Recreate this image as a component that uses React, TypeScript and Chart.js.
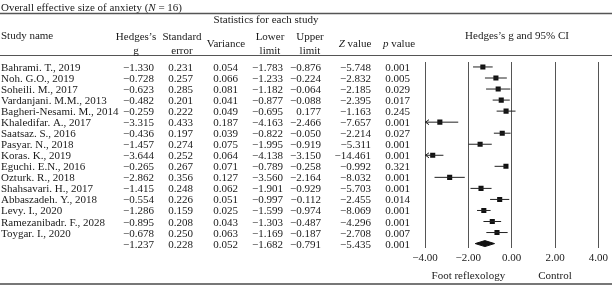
import React, { useEffect, useRef } from "react";
import { Chart, registerables } from "chart.js";

Chart.register(...registerables);

// ---------- data ----------
const titleText = "Overall effective size of anxiety (";
const sampleSizeLabel = "N";
const sampleSize = 16;

const studies = [
  "Bahrami. T., 2019",
  "Noh. G.O., 2019",
  "Soheili. M., 2017",
  "Vardanjani. M.M., 2013",
  "Bagheri-Nesami. M., 2014",
  "Khaledifar. A., 2017",
  "Saatsaz. S., 2016",
  "Pasyar. N., 2018",
  "Koras. K., 2019",
  "Eguchi. E.N., 2016",
  "Ozturk. R., 2018",
  "Shahsavari. H., 2017",
  "Abbaszadeh. Y., 2018",
  "Levy. I., 2020",
  "Ramezanibadr. F., 2028",
  "Toygar. I., 2020",
];
const hedgesG = [-1.33, -0.728, -0.623, -0.482, -0.259, -3.315, -0.436, -1.457, -3.644, -0.265, -2.862, -1.415, -0.554, -1.286, -0.895, -0.678];
const standardError = [0.231, 0.257, 0.285, 0.201, 0.222, 0.433, 0.197, 0.274, 0.252, 0.267, 0.356, 0.248, 0.226, 0.159, 0.208, 0.25];
const variance = [0.054, 0.066, 0.081, 0.041, 0.049, 0.187, 0.039, 0.075, 0.064, 0.071, 0.127, 0.062, 0.051, 0.025, 0.043, 0.063];
const lowerLimit = [-1.783, -1.233, -1.182, -0.877, -0.695, -4.163, -0.822, -1.995, -4.138, -0.789, -3.56, -1.901, -0.997, -1.599, -1.303, -1.169];
const upperLimit = [-0.876, -0.224, -0.064, -0.088, 0.177, -2.466, -0.05, -0.919, -3.15, -0.258, -2.164, -0.929, -0.112, -0.974, -0.487, -0.187];
const zValue = [-5.748, -2.832, -2.185, -2.395, -1.163, -7.657, -2.214, -5.311, -14.461, -0.992, -8.032, -5.703, -2.455, -8.069, -4.296, -2.708];
const pValue = [0.001, 0.005, 0.029, 0.017, 0.245, 0.001, 0.027, 0.001, 0.001, 0.321, 0.001, 0.001, 0.014, 0.001, 0.001, 0.007];

const overallG = -1.237;
const overallSE = 0.228;
const overallVariance = 0.052;
const overallLower = -1.682;
const overallUpper = -0.791;
const overallZ = -5.435;
const overallP = 0.001;

const xTickMin = -4;
const xTickMax = 4;
const xTickStep = 2;
const sideLabels = ["Foot reflexology", "Control"];
const sideLabelValues = [-2, 2];

const groupHeader = "Statistics for each study";
const forestHeader = "Hedges\u2019s g and 95% CI";
const studyHeader = "Study name";

// ---------- layout / style ----------
const FONT = '"Liberation Serif", "Times New Roman", "DejaVu Serif", serif';
const FS = 11;
const TEXT = "#1a1a1a";
const colRight = [154, 193, 238, 283, 321, 371, 410];
const colCenter = [136, 182, 226, 270, 310, 355, 399];

type Seg = [string, boolean];
const colHeaders: Seg[][][] = [
  [[["Hedges\u2019s", false]], [["g", false]]],
  [[["Standard", false]], [["error", false]]],
  [[["Variance", false]]],
  [[["Lower", false]], [["limit", false]]],
  [[["Upper", false]], [["limit", false]]],
  [[["Z", true], [" value", false]]],
  [[["p", true], [" value", false]]],
];

const fmt = (v: number, d = 3) => (v < 0 ? "\u2212" : "") + Math.abs(v).toFixed(d);

function font(italic: boolean) {
  return `${italic ? "italic " : ""}${FS}px ${FONT}`;
}

function drawSegs(ctx: CanvasRenderingContext2D, segs: Seg[], x: number, baseline: number, align: "left" | "center" | "right") {
  let total = 0;
  for (const [t, it] of segs) {
    ctx.font = font(it);
    total += ctx.measureText(t).width;
  }
  let cx = align === "left" ? x : align === "center" ? x - total / 2 : x - total;
  ctx.textAlign = "left";
  for (const [t, it] of segs) {
    ctx.font = font(it);
    ctx.fillText(t, cx, baseline);
    cx += ctx.measureText(t).width;
  }
}

const tablePlugin = {
  id: "tablePlugin",
  afterDatasetsDraw(chart: any) {
    const ctx: CanvasRenderingContext2D = chart.ctx;
    const ys = chart.scales.y;
    const xs = chart.scales.x;
    const W = chart.width;
    ctx.save();

    // arrowheads for intervals running past the axis minimum
    ctx.strokeStyle = "#222";
    ctx.lineWidth = 1;
    lowerLimit.forEach((lo, i) => {
      if (lo < xTickMin) {
        const px = xs.getPixelForValue(xTickMin);
        const py = ys.getPixelForValue(i);
        ctx.beginPath();
        ctx.moveTo(px + 4, py - 2.5);
        ctx.lineTo(px + 0.5, py);
        ctx.lineTo(px + 4, py + 2.5);
        ctx.stroke();
      }
    });

    ctx.fillStyle = TEXT;
    ctx.textBaseline = "alphabetic";

    // title
    drawSegs(ctx, [[titleText, false], [sampleSizeLabel, true], [` = ${sampleSize})`, false]], 1, 11, "left");

    // rules
    ctx.strokeStyle = "#555";
    ctx.lineWidth = 1.3;
    ctx.beginPath();
    ctx.moveTo(0, 13.5);
    ctx.lineTo(W, 13.5);
    ctx.stroke();
    ctx.lineWidth = 1;
    ctx.beginPath();
    ctx.moveTo(0, 55.5);
    ctx.lineTo(W, 55.5);
    ctx.stroke();
    ctx.strokeStyle = "#777";
    ctx.lineWidth = 2;
    ctx.beginPath();
    ctx.moveTo(0, 284);
    ctx.lineTo(W, 284);
    ctx.stroke();

    // headers
    ctx.fillStyle = TEXT;
    drawSegs(ctx, [[groupHeader, false]], 266, 22.5, "center");
    drawSegs(ctx, [[studyHeader, false]], 1, 39, "left");
    drawSegs(ctx, [[forestHeader, false]], 517, 39, "center");
    colHeaders.forEach((lines, c) => {
      if (lines.length === 2) {
        drawSegs(ctx, lines[0], colCenter[c], 40, "center");
        drawSegs(ctx, lines[1], colCenter[c], 53.5, "center");
      } else {
        drawSegs(ctx, lines[0], colCenter[c], 47, "center");
      }
    });

    // rows
    const rowVals = (i: number) => [hedgesG[i], standardError[i], variance[i], lowerLimit[i], upperLimit[i], zValue[i], pValue[i]];
    studies.forEach((name, i) => {
      const b = ys.getPixelForValue(i) + 4;
      drawSegs(ctx, [[name, false]], 1, b, "left");
      rowVals(i).forEach((v, c) => drawSegs(ctx, [[fmt(v), false]], colRight[c], b, "right"));
    });
    const ob = ys.getPixelForValue(studies.length) + 4;
    [overallG, overallSE, overallVariance, overallLower, overallUpper, overallZ, overallP].forEach((v, c) =>
      drawSegs(ctx, [[fmt(v), false]], colRight[c], ob, "right")
    );

    // side labels under the axis
    sideLabels.forEach((s, k) => {
      drawSegs(ctx, [[s, false]], xs.getPixelForValue(sideLabelValues[k]), 279, "center");
    });

    ctx.restore();
  },
};

export default function App() {
  const ref = useRef<HTMLCanvasElement | null>(null);

  useEffect(() => {
    if (!ref.current) return;
    const n = studies.length;

    const ciData: { x: number; y: number }[] = [];
    studies.forEach((_, i) => {
      ciData.push({ x: lowerLimit[i], y: i }, { x: upperLimit[i], y: i }, { x: NaN, y: NaN });
    });
    const pointData = studies.map((_, i) => ({ x: hedgesG[i], y: i }));
    const dh = 0.27;
    const diamond = [
      { x: overallLower, y: n },
      { x: overallG, y: n - dh },
      { x: overallUpper, y: n },
      { x: overallG, y: n + dh },
      { x: overallLower, y: n },
    ];

    const chart = new Chart(ref.current, {
      type: "line",
      data: {
        datasets: [
          {
            data: ciData,
            borderColor: "#222",
            borderWidth: 1,
            pointRadius: 0,
            spanGaps: false,
            fill: false,
          },
          {
            data: pointData,
            showLine: false,
            pointStyle: "rect",
            pointRadius: 3.6,
            pointBorderWidth: 0,
            pointBackgroundColor: "#111",
            borderColor: "#111",
          },
          {
            data: diamond,
            borderColor: "#111",
            backgroundColor: "#111",
            borderWidth: 1,
            pointRadius: 0,
            tension: 0,
            fill: "shape",
          },
        ],
      } as any,
      options: {
        responsive: false,
        animation: false,
        events: [],
        layout: { padding: { left: 425, right: 11, top: 62, bottom: 15 } },
        plugins: {
          legend: { display: false },
          tooltip: { enabled: false },
        },
        scales: {
          x: {
            type: "linear",
            min: xTickMin,
            max: xTickMax,
            afterFit: (s: any) => {
              s.height = 22;
            },
            ticks: {
              stepSize: xTickStep,
              callback: (v: any) => fmt(Number(v), 2),
              font: { family: FONT, size: FS },
              color: TEXT,
              padding: 4,
              maxRotation: 0,
            },
            grid: { color: "#555", lineWidth: 1, drawTicks: false },
            border: { display: false },
          },
          y: {
            type: "linear",
            display: false,
            min: -0.45,
            max: 16.4,
            reverse: true,
          },
        },
      } as any,
      plugins: [tablePlugin],
    });
    return () => chart.destroy();
  }, []);

  return (
    <div style={{ position: "absolute", left: 0, top: 0, width: 612, height: 285, background: "#fff" }}>
      <canvas ref={ref} width={612} height={285} style={{ display: "block" }} />
    </div>
  );
}
